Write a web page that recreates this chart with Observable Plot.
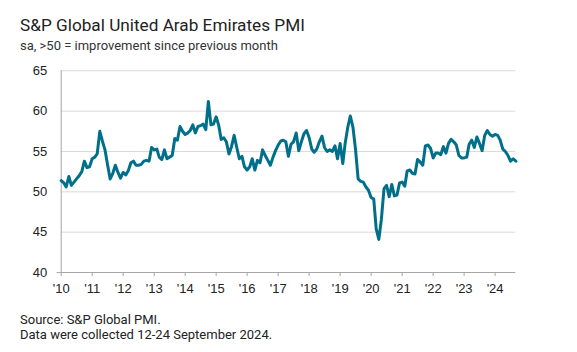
<!DOCTYPE html>
<html><head><meta charset="utf-8">
<script src="https://cdn.jsdelivr.net/npm/d3@7"></script>
<script src="https://cdn.jsdelivr.net/npm/@observablehq/plot@0.6"></script>
<style>
body{margin:0;background:#fff;width:577px;height:352px;overflow:hidden;position:relative;font-family:Roboto,"Liberation Sans",sans-serif;}
#title{position:absolute;left:20px;top:15px;font-size:17.2px;line-height:20px;color:#222;white-space:nowrap;}
#subtitle{position:absolute;left:20px;top:38px;font-size:13px;line-height:15px;color:#333;white-space:nowrap;}
#chart{position:absolute;left:0;top:55px;}
#source{position:absolute;left:20px;top:312px;font-size:13px;line-height:15px;color:#222;white-space:nowrap;}
</style></head>
<body>
<div id="title">S&amp;P Global United Arab Emirates PMI</div>
<div id="subtitle">sa, &gt;50 = improvement since previous month</div>
<div id="chart"></div>
<div id="source">Source: S&amp;P Global PMI.<br>Data were collected 12-24 September 2024.</div>
<script>
const pmi2010 = [51.4, 51.1, 50.6, 51.9, 50.8, 51.2, 51.6, 52.0, 52.5, 53.8, 53.0, 53.1];
const pmi2011 = [54.1, 54.3, 54.7, 57.5, 56.3, 55.2, 53.4, 51.6, 52.3, 53.3, 52.4, 51.7];
const pmi2012 = [52.4, 52.1, 52.6, 53.6, 53.8, 53.3, 53.3, 53.4, 53.8, 53.9, 53.8, 55.5];
const pmi2013 = [55.2, 55.3, 54.3, 54.0, 55.2, 54.1, 54.3, 54.5, 56.6, 56.4, 58.1, 57.5];
const pmi2014 = [57.1, 57.3, 57.6, 58.3, 57.3, 58.1, 58.2, 58.4, 57.7, 61.2, 58.3, 58.4];
const pmi2015 = [59.3, 58.2, 56.5, 56.7, 56.2, 54.7, 55.6, 57.0, 55.5, 54.1, 54.4, 53.1];
const pmi2016 = [52.7, 53.1, 54.1, 52.7, 53.9, 53.6, 55.2, 54.5, 53.9, 53.3, 54.3, 55.1];
const pmi2017 = [55.8, 56.3, 56.4, 56.2, 54.4, 55.9, 56.2, 57.3, 55.1, 56.2, 57.2, 57.6];
const pmi2018 = [56.7, 55.3, 54.9, 55.3, 56.2, 56.9, 55.5, 55.0, 55.2, 55.0, 55.7, 54.1];
const pmi2019 = [56.0, 53.5, 56.0, 58.0, 59.4, 58.0, 55.3, 51.6, 51.3, 51.2, 50.6, 50.2];
const pmi2020 = [49.3, 49.1, 45.4, 44.1, 46.6, 50.4, 50.8, 49.4, 50.9, 49.5, 49.6, 51.1];
const pmi2021 = [51.2, 50.7, 52.6, 52.7, 52.3, 52.2, 54.0, 53.7, 53.3, 55.7, 55.8, 55.4];
const pmi2022 = [54.2, 54.8, 54.8, 54.6, 55.6, 54.8, 56.0, 56.5, 56.2, 55.8, 54.5, 54.2];
const pmi2023 = [54.2, 54.3, 55.9, 56.4, 55.5, 56.8, 56.0, 55.1, 57.0, 57.6, 57.1, 56.9];
const pmi2024 = [57.1, 57.0, 56.4, 55.3, 55.0, 54.5, 53.8, 54.1, 53.8];

const yearTicks = [2010, 2011, 2012, 2013, 2014, 2015, 2016, 2017, 2018, 2019, 2020, 2021, 2022, 2023, 2024];
const yearLabels = ["'10", "'11", "'12", "'13", "'14", "'15", "'16", "'17", "'18", "'19", "'20", "'21", "'22", "'23", "'24"];
const yTicks = [40, 45, 50, 55, 60, 65];

const values = [].concat(pmi2010, pmi2011, pmi2012, pmi2013, pmi2014, pmi2015, pmi2016, pmi2017,
  pmi2018, pmi2019, pmi2020, pmi2021, pmi2022, pmi2023, pmi2024);
const data = values.map((v, i) => ({date: new Date(Date.UTC(2010, i, 1)), value: v}));
const tickDates = yearTicks.map(y => new Date(Date.UTC(y, 0, 1)));
const x0 = data[0].date, x1 = data[data.length - 1].date;

const axisColor = "#a6a6a6";
const chart = Plot.plot({
  width: 577, height: 245,
  marginTop: 15.3, marginBottom: 28, marginLeft: 60.7, marginRight: 61.7,
  x: {type: "utc", domain: [x0, x1], label: null},
  y: {domain: [40, 65], label: null},
  style: {fontFamily: "'Liberation Sans', Arial, sans-serif", fontSize: "13px", color: "#222", background: "#fff", overflow: "visible"},
  marks: [
    Plot.ruleY(yTicks.slice(1), {stroke: "#d9d9d9", strokeWidth: 1, strokeOpacity: 1}),
    Plot.axisY(yTicks, {tickSize: 0, tickPadding: 14, label: null, fill: "#222", fontSize: 13}),
    Plot.ruleX([x0], {y1: 40, y2: 65, stroke: axisColor, strokeOpacity: 1}),
    Plot.ruleY([40], {stroke: axisColor, strokeOpacity: 1}),
    Plot.axisY([40], {tickSize: 4, text: null, stroke: axisColor, strokeOpacity: 1, label: null}),
    Plot.axisX(tickDates, {tickSize: 4, tickPadding: 7, stroke: axisColor, strokeOpacity: 1, label: null, fill: "#222", fontSize: 13,
      tickFormat: d => yearLabels[yearTicks.indexOf(d.getUTCFullYear())]}),
    Plot.lineY(data, {x: "date", y: "value", stroke: "#00708a", strokeWidth: 3})
  ]
});
document.getElementById("chart").appendChild(chart);
</script>
</body></html>
